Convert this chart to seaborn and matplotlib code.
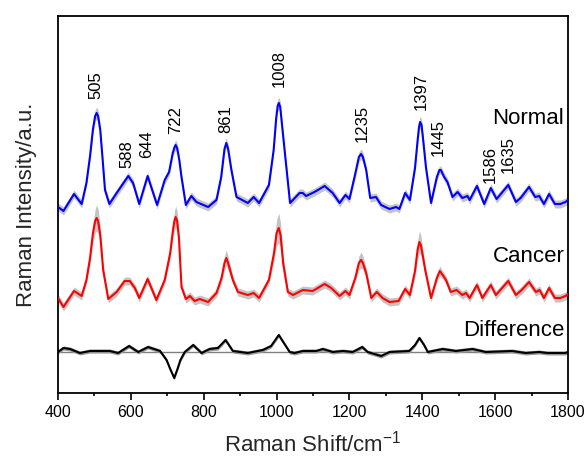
import matplotlib
matplotlib.use("Agg")
import matplotlib.pyplot as plt
import seaborn as sns
import numpy as np

# ---------------- data (wavenumber, intensity a.u. incl. vertical offset) -------------
normal_x = [400, 415, 444, 465, 478, 488, 496, 502, 506, 510, 516, 522, 529, 541, 561, 593, 606, 623,
            646, 672, 693, 705, 715, 720, 723, 727, 733, 739, 751, 766, 780, 812, 835, 848, 857, 862, 867, 876,
            890, 921, 937, 952, 979, 992, 999, 1003, 1006, 1010, 1015, 1022, 1037, 1063, 1072, 1081, 1104,
            1132, 1154, 1173, 1189, 1200, 1214, 1226, 1232, 1237, 1246, 1257, 1273, 1287, 1310, 1328, 1337,
            1353, 1366, 1380, 1387, 1391, 1394, 1398, 1403, 1410, 1424, 1440, 1447, 1451, 1460, 1469, 1483, 1497, 1510, 1524,
            1530, 1550, 1570, 1588, 1604, 1636, 1657, 1670, 1693, 1710, 1721, 1734, 1748, 1764,
            1779, 1793, 1800]
normal_y = [186, 182, 199, 189, 210, 237, 264, 277, 280, 277, 263, 236, 203, 189, 200, 217, 210, 189,
            217, 188, 213, 221, 240, 246, 248, 245, 233, 216, 188, 197, 191, 186, 193, 216, 244, 250, 244, 223,
            196, 190, 196, 190, 208, 243, 275, 287, 290, 286, 268, 243, 190, 200, 200, 197, 201,
            207, 200, 190, 198, 194, 216, 236, 239, 236, 223, 195, 196, 188, 184, 186, 184,
            200, 193, 225, 252, 266, 271, 268, 251, 226, 190, 216, 223, 223, 216, 211, 196, 201, 195, 197,
            193, 207, 189, 205, 194, 208, 191, 195, 206, 196, 197, 189, 199, 189,
            189, 191, 193]
normal_sd = [4, 4, 4, 4, 4, 4, 5, 6, 6, 6, 5, 4, 4, 4, 4, 4, 4, 4,
             4, 4, 4, 4, 4, 5, 5, 5, 4, 4, 4, 4, 4, 4, 4, 4, 5, 5, 5, 4,
             4, 4, 4, 4, 4, 4, 5, 6, 6, 6, 5, 4, 4, 4, 4, 4, 4,
             4, 4, 4, 4, 4, 4, 5, 5, 5, 4, 4, 4, 4, 4, 4, 4,
             4, 4, 4, 5, 6, 6, 6, 5, 4, 4, 4, 4, 4, 4, 4, 4, 4, 4, 4,
             4, 4, 4, 4, 4, 4, 4, 4, 4, 4, 4, 4, 4, 4,
             4, 4, 4]

cancer_x = [400, 415, 444, 465, 478, 488, 496, 502, 506, 510, 516, 524, 538, 561, 583, 597, 611, 623,
            646, 670, 693, 708, 716, 720, 723, 727, 732, 739, 751, 762, 775, 789, 812, 835, 849, 857, 862, 867,
            880, 894, 921, 937, 952, 979, 993, 1000, 1006, 1011, 1018, 1031, 1045, 1072, 1099, 1132, 1150,
            1173, 1189, 1200, 1216, 1226, 1232, 1237, 1246, 1260, 1275, 1291, 1310, 1335, 1353, 1366, 1380, 1387,
            1392, 1396, 1401, 1408, 1424, 1440, 1448, 1456, 1465, 1478, 1494, 1510, 1520, 1530, 1550, 1565, 1588,
            1602, 1636, 1657, 1673, 1693, 1712, 1722, 1734, 1748, 1764, 1779, 1793, 1800]
cancer_y = [95, 86, 102, 97, 113, 135, 160, 172, 175, 172, 158, 123, 94, 101, 112, 112, 105, 95,
            114, 93, 113, 140, 164, 173, 176, 172, 155, 106, 94, 97, 92, 94, 91, 100, 115, 130, 135, 130,
            113, 101, 98, 100, 95, 113, 140, 160, 165, 158, 130, 101, 98, 103, 102, 109, 105,
            97, 102, 98, 115, 130, 133, 130, 120, 95, 101, 95, 91, 92, 104, 98, 122, 143,
            151, 148, 138, 123, 95, 115, 122, 118, 113, 101, 103, 98, 100, 95, 108, 95, 108,
            98, 112, 98, 103, 111, 101, 103, 95, 105, 95, 95, 97, 99]
cancer_sd = [4, 4, 4, 4, 4, 6, 9, 12, 13, 12, 9, 5, 4, 4, 4, 4, 4, 4,
             4, 4, 4, 5, 8, 10, 11, 10, 7, 4, 4, 4, 4, 4, 4, 4, 5, 7, 8, 7,
             4, 4, 4, 4, 4, 4, 8, 13, 15, 12, 8, 4, 4, 4, 4, 4, 4,
             4, 4, 4, 4, 7, 8, 7, 5, 4, 4, 4, 4, 4, 4, 4, 6, 9,
             11, 10, 7, 5, 4, 4, 5, 4, 4, 4, 4, 4, 4, 4, 4, 4, 4,
             4, 4, 4, 4, 4, 4, 4, 4, 4, 4, 4, 4, 4]

diff_x = [400, 415, 433, 460, 488, 542, 565, 595, 620, 647, 680, 698, 708, 719, 728, 736,
          748, 771, 794, 816, 839, 860, 880, 921, 962, 985, 1006, 1020, 1036, 1049, 1072, 1109,
          1127, 1154, 1182, 1209, 1235, 1250, 1287, 1310, 1364, 1380, 1392, 1405, 1415, 1456,
          1492, 1538, 1574, 1647, 1684, 1721, 1743, 1793, 1800]
diff_y = [41, 45, 44, 40, 42, 42, 40, 47, 41, 46, 42, 33, 24, 15, 24, 33,
          41, 48, 40, 44, 45, 53, 42, 40, 43, 47, 58, 50, 41, 40, 42, 42,
          44, 41, 42, 41, 46, 41, 37, 41, 42, 48, 55, 48, 41, 44,
          42, 44, 41, 42, 40, 41, 40, 40, 41]
diff_baseline = 41

peak_pos = [505, 588, 644, 722, 861, 1008, 1235, 1397, 1445, 1586, 1635]
peak_label_y = [294, 225, 235, 259, 260, 306, 251, 283, 237, 210, 220]

series_names = ["Normal", "Cancer", "Difference"]
series_label_pos = [(1790, 275), (1790, 136), (1790, 63)]

# ---------------- plotting -------------------------------------------------------------
sns.set_theme(style="white")
plt.rcParams['font.family'] = ['Liberation Sans', 'DejaVu Sans']
plt.rcParams['mathtext.fontset'] = 'custom'
plt.rcParams['mathtext.rm'] = 'Liberation Sans'
plt.rcParams['mathtext.it'] = 'Liberation Sans'
plt.rcParams['xtick.bottom'] = True
plt.rcParams['xtick.color'] = 'black'

fig = plt.figure(figsize=(5.87, 4.58), dpi=100)
ax = fig.add_axes([58 / 587, 1 - 393 / 458, (568 - 58) / 587, (393 - 16) / 458])

for xs, ys, sd, col in [(normal_x, normal_y, normal_sd, "#0000FF"),
                        (cancer_x, cancer_y, cancer_sd, "#FF0000")]:
    xs_a, ys_a, sd_a = np.array(xs), np.array(ys), np.array(sd)
    ax.fill_between(xs_a, ys_a - sd_a, ys_a + sd_a, color="#C4C4C4", lw=0, zorder=1)
    sns.lineplot(x=xs, y=ys, ax=ax, color=col, lw=1.5, sort=False, errorbar=None, zorder=3)

ax.axhline(diff_baseline, color="#808080", lw=1.0, zorder=1)
dx, dy = np.array(diff_x), np.array(diff_y)
ax.fill_between(dx, dy - 2, dy + 2, color="#999999", lw=0, zorder=1)
sns.lineplot(x=diff_x, y=diff_y, ax=ax, color="black", lw=1.5, sort=False, errorbar=None, zorder=3)

for p, yy in zip(peak_pos, peak_label_y):
    ax.text(p, yy, str(p), rotation=90, ha="center", va="bottom", fontsize=12, color="black")

for name, (xx, yy) in zip(series_names, series_label_pos):
    ax.text(xx, yy, name, ha="right", va="center", fontsize=16, color="black")

ax.set_xlim(400, 1800)
ax.set_ylim(0, 377)
ax.set_xticks(range(400, 1801, 200))
ax.set_xticks(range(500, 1800, 200), minor=True)
ax.set_yticks([])
ax.tick_params(axis="x", which="major", direction="out", length=5, width=1.2,
               labelsize=11.5, pad=3.5, bottom=True, color="black", labelcolor="black")
ax.tick_params(axis="x", which="minor", direction="out", length=2.5, width=1.2,
               bottom=True, color="black")
for s in ax.spines.values():
    s.set_visible(True)
    s.set_color("black")
    s.set_linewidth(1.3)

ax.set_xlabel("Raman Shift/cm$^{\\mathrm{-1}}$", fontsize=16, labelpad=8)
ax.set_ylabel("Raman Intensity/a.u.", fontsize=16, labelpad=15)

fig.savefig("out.png", dpi=100)
